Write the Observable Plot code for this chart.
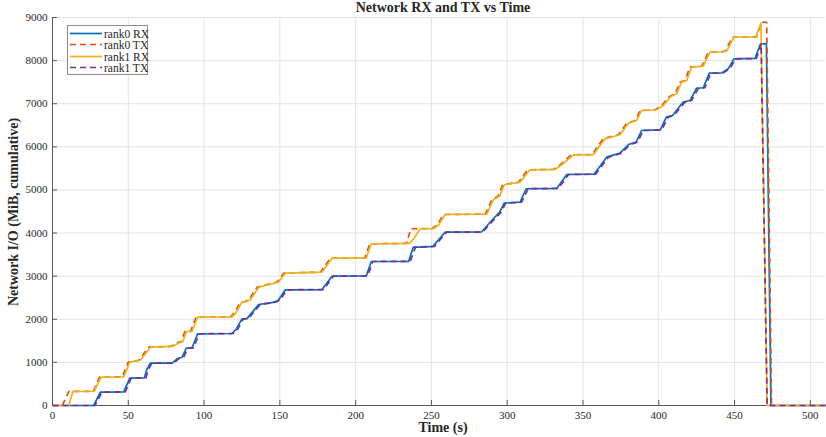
<!DOCTYPE html>
<html>
<head>
<meta charset="utf-8">
<script src="https://cdn.jsdelivr.net/npm/d3@7"></script>
<script src="https://cdn.jsdelivr.net/npm/@observablehq/plot@0.6"></script>
<style>
  html, body { margin: 0; padding: 0; background: #fff; }
  #wrap { position: relative; width: 826px; height: 437px; font-family: "Liberation Serif", "DejaVu Serif", serif; color: #262626; }
  .ov { position: absolute; white-space: nowrap; }
  #title { left: 443px; top: 8px; transform: translate(-50%, -50%); font-weight: bold; font-size: 14px; }
  #xlabel { left: 443px; top: 428px; transform: translate(-50%, -50%); font-weight: bold; font-size: 14px; }
  #ylabel { left: 14px; top: 212px; transform: translate(-50%, -50%) rotate(-90deg); font-weight: bold; font-size: 14px; }
  #legend { left: 67px; top: 25px; width: 81px; height: 50px; border: 1px solid #8c8c8c; background: #fff; box-sizing: border-box; font-size: 11.5px; }
  #legend .row { position: absolute; left: 2px; height: 11px; display: flex; align-items: center; }
  #legend svg { display: block; margin-right: 2px; }
</style>
</head>
<body>
<div id="wrap"></div>
<script>
// ---- data (time s, cumulative MiB) ----
const seriesNames = ["rank0 RX", "rank0 TX", "rank1 RX", "rank1 TX"];
const seriesColors = ["#0072BD", "#D95319", "#EDB120", "#7E2F8E"];
const seriesDashed = [false, true, false, true];

const rank0RX = [[0,0],[27.2,0],[31.6,309],[47,315],[51,633],[60.6,640],[62.4,850],[64.6,981],[79,985],[82.2,1083],[85.5,1120],[88.3,1330],[92,1335],[95.8,1663],[118.4,1670],[121,1760],[125,2011],[128.3,2015],[136,2343],[143.7,2382],[146,2397],[149,2440],[153.6,2684],[177.8,2690],[184.4,3000],[207,3005],[210.3,3340],[235,3345],[238,3673],[244,3675],[251,3690],[259,4020],[283,4025],[289.8,4290],[295,4485],[298,4694],[308.5,4717],[312.5,5028],[332.7,5035],[339.3,5358],[357.3,5365],[365.6,5760],[374.4,5853],[380,6054],[385,6108],[388.7,6379],[401,6395],[405,6690],[409,6728],[416,7036],[420.6,7075],[425,7362],[429.4,7370],[433.3,7710],[441.5,7715],[445.8,7810],[449.6,8042],[463.4,8050],[467.2,8390],[471,8392],[474,0],[510,0]];

const rank0TX = [[0,0],[6.4,0],[10.8,325],[27,330],[31,657],[46,665],[50,1005],[57,1050],[63.5,1353],[78,1370],[83,1470],[85,1480],[87.3,1717],[91,1720],[94.8,2050],[117.4,2055],[120,2150],[124,2397],[127,2410],[129.5,2452],[135,2745],[148,2860],[152.6,3070],[176.8,3093],[183.4,3417],[206,3420],[209.3,3750],[233.5,3760],[236.5,4100],[250.4,4105],[253.5,4175],[258,4430],[285.5,4440],[290,4779],[294,4855],[297,5120],[307.5,5180],[313.5,5467],[330.6,5475],[335,5583],[342.2,5815],[356,5820],[363.2,6186],[373.4,6280],[378.8,6548],[384.4,6611],[387.7,6843],[397.6,6860],[402,6960],[407,7168],[410.8,7230],[414,7500],[417.4,7540],[420.5,7850],[428.3,7870],[432.8,8196],[441.5,8200],[444,8230],[448.6,8543],[464.5,8550],[467.6,8890],[471.2,8890],[474.4,0],[510,0]];

const rank1RX = [[0,0],[10.8,0],[13.4,325],[27.5,330],[32,657],[47,665],[51,1005],[58,1050],[64.6,1353],[79,1370],[84.4,1470],[86,1480],[88.3,1717],[92,1720],[95.8,2050],[118.4,2055],[121,2150],[125,2397],[128,2410],[130.5,2452],[136,2745],[149,2860],[153.6,3070],[177.8,3093],[184.4,3417],[207,3420],[210.3,3750],[235.5,3760],[238,3850],[242.6,4100],[251.4,4105],[254.5,4175],[259,4430],[286.5,4440],[291,4779],[295,4855],[298,5120],[308.5,5180],[315,5467],[331.6,5475],[336,5583],[343.7,5815],[357,5820],[364.5,6186],[374.4,6280],[380,6548],[385.4,6611],[388.7,6843],[398.6,6860],[403,6960],[408,7168],[411.8,7230],[415,7500],[418.4,7540],[421.7,7850],[429.3,7870],[433.8,8196],[442.5,8200],[445,8230],[449.6,8543],[464,8550],[467.4,8868],[471.5,0],[510,0]];

const rank1TX = [[0,0],[28,0],[32.6,309],[48,315],[52,633],[61.6,640],[63.4,850],[65.6,981],[80,985],[83.2,1083],[86.5,1120],[89.3,1330],[93,1335],[96.8,1663],[119.4,1670],[122,1760],[126,2011],[129.3,2015],[137,2343],[144.7,2382],[147,2397],[150,2440],[154.6,2684],[178.8,2690],[185.4,3000],[208,3005],[211.3,3340],[236,3345],[239.5,3673],[252,3690],[260,4020],[284,4025],[290.8,4290],[296,4485],[299,4694],[309.5,4717],[313.8,5028],[333.7,5035],[340.5,5358],[358.3,5365],[366.8,5760],[375.4,5853],[381,6054],[386,6108],[389.8,6379],[402,6395],[406.2,6690],[410,6728],[417.2,7036],[421.6,7075],[426.2,7362],[430.4,7370],[434.4,7710],[442.5,7715],[446.8,7810],[450.8,8042],[464.4,8050],[467.5,8390],[471.5,0],[510,0]];

const xTicks = [0, 50, 100, 150, 200, 250, 300, 350, 400, 450, 500];
const yTicks = [0, 1000, 2000, 3000, 4000, 5000, 6000, 7000, 8000, 9000];
const titleText = "Network RX and TX vs Time";
const xLabelText = "Time (s)";
const yLabelText = "Network I/O (MiB, cumulative)";

const allSeries = [rank0RX, rank0TX, rank1RX, rank1TX];

const lineMarks = allSeries.map((pts, i) => Plot.line(pts, {
  x: d => d[0], y: d => d[1],
  stroke: seriesColors[i], strokeWidth: 1.7,
  strokeDasharray: seriesDashed[i] ? "6,4" : null,
  strokeLinejoin: "round", strokeLinecap: "butt"
}));

const axisColor = "#5a5a5a";
const chart = Plot.plot({
  width: 826, height: 437,
  marginLeft: 52, marginRight: 1, marginTop: 17, marginBottom: 32,
  style: { fontFamily: '"Liberation Serif", "DejaVu Serif", serif', fontSize: "11px", color: "#262626", background: "#fff" },
  x: { domain: [0, 510] },
  y: { domain: [0, 9000] },
  marks: [
    Plot.gridX(xTicks, { stroke: "#e3e3e3", strokeOpacity: 1 }),
    Plot.gridY(yTicks, { stroke: "#e3e3e3", strokeOpacity: 1 }),
    Plot.axisX(xTicks, { tickSize: 0, tickPadding: 6, label: null, fill: "#262626", tickFormat: d => String(d) }),
    Plot.axisY(yTicks, { tickSize: 0, tickPadding: 5, label: null, fill: "#262626", tickFormat: d => String(d) }),
    Plot.axisX(xTicks, { tickSize: 5, dy: -5, tickFormat: () => "", label: null, stroke: axisColor }),
    Plot.axisY(yTicks, { tickSize: 5, dx: 5, tickFormat: () => "", label: null, stroke: axisColor }),
    Plot.ruleY([0], { stroke: axisColor, strokeWidth: 1 }),
    Plot.ruleX([0], { stroke: axisColor, strokeWidth: 1 }),
    ...lineMarks
  ]
});

const wrap = document.getElementById("wrap");
wrap.appendChild(chart);

function addDiv(id, text) {
  const d = document.createElement("div");
  d.className = "ov"; d.id = id; d.textContent = text;
  wrap.appendChild(d);
  return d;
}
addDiv("title", titleText);
addDiv("xlabel", xLabelText);
addDiv("ylabel", yLabelText);

const legend = document.createElement("div");
legend.className = "ov"; legend.id = "legend";
const rowTops = [2, 13, 25, 36];
seriesNames.forEach((name, i) => {
  const row = document.createElement("div");
  row.className = "row";
  row.style.top = rowTops[i] + "px";
  const ns = "http://www.w3.org/2000/svg";
  const s = document.createElementNS(ns, "svg");
  s.setAttribute("width", 32); s.setAttribute("height", 11);
  const l = document.createElementNS(ns, "line");
  l.setAttribute("x1", 0); l.setAttribute("x2", 32);
  l.setAttribute("y1", 5.5); l.setAttribute("y2", 5.5);
  l.setAttribute("stroke", seriesColors[i]);
  l.setAttribute("stroke-width", 1.7);
  if (seriesDashed[i]) l.setAttribute("stroke-dasharray", "6,4");
  s.appendChild(l);
  row.appendChild(s);
  const t = document.createElement("span");
  t.textContent = name;
  row.appendChild(t);
  legend.appendChild(row);
});
wrap.appendChild(legend);
</script>
</body>
</html>
